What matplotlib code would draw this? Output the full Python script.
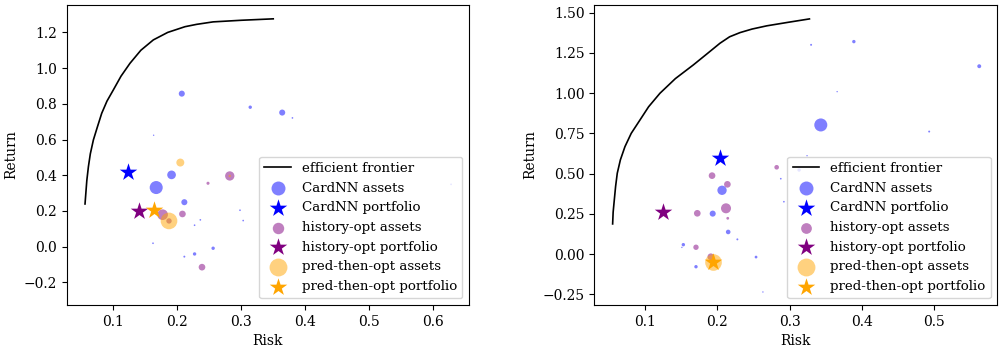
import matplotlib
matplotlib.use("Agg")
import matplotlib.pyplot as plt

plt.rcParams['font.family'] = ['DejaVu Serif']

# ---- left panel ----
frontier1_x = [0.0557, 0.057, 0.0585, 0.061, 0.064, 0.0688, 0.075, 0.0818, 0.090, 0.100, 0.112,
               0.126, 0.143, 0.1625, 0.185, 0.212, 0.23, 0.256, 0.30, 0.350]
frontier1_y = [0.239, 0.30, 0.37, 0.448, 0.52, 0.598, 0.67, 0.747, 0.815, 0.878, 0.955,
               1.027, 1.10, 1.158, 1.20, 1.232, 1.245, 1.259, 1.268, 1.276]

cardnn1_x = [0.207, 0.314, 0.364, 0.380, 0.163, 0.191, 0.167, 0.211, 0.298, 0.303, 0.236, 0.227, 0.162, 0.256, 0.227, 0.211, 0.628]
cardnn1_y = [0.857, 0.781, 0.751, 0.721, 0.624, 0.402, 0.331, 0.249, 0.204, 0.146, 0.150, 0.120, 0.019, -0.009, -0.041, -0.056, 0.349]
cardnn1_w = [19, 6, 19, 1.5, 1, 39, 88, 19, 1.5, 1.5, 1.5, 1.5, 1.5, 6, 6, 2, 1.5]

hist1_x = [0.282, 0.248, 0.177, 0.208, 0.187, 0.2386]
hist1_y = [0.396, 0.355, 0.179, 0.183, 0.144, -0.115]
hist1_w = [45, 5, 59, 23, 15, 23]

pred1_x = [0.2047, 0.187, 0.282]
pred1_y = [0.471, 0.144, 0.396]
pred1_w = [33, 144, 3]

port1 = {'CardNN': (0.1225, 0.417), 'history-opt': (0.140, 0.200), 'pred-then-opt': (0.164, 0.206)}

# ---- right panel ----
frontier2_x = [0.0553, 0.0560, 0.0576, 0.0594, 0.0617, 0.066, 0.0723, 0.081, 0.0931, 0.105, 0.1207,
               0.142, 0.1668, 0.186, 0.2037, 0.217, 0.2314, 0.248, 0.2683, 0.298, 0.3273]
frontier2_y = [0.187, 0.26, 0.336, 0.42, 0.502, 0.585, 0.667, 0.75, 0.833, 0.915, 0.999,
               1.09, 1.175, 1.245, 1.310, 1.35, 1.376, 1.398, 1.418, 1.44, 1.461]

cardnn2_x = [0.3296, 0.3887, 0.562, 0.3656, 0.343, 0.4928, 0.313, 0.2877, 0.2065, 0.1936, 0.215, 0.2277, 0.292, 0.153, 0.151, 0.1705, 0.2535, 0.263, 0.324]
cardnn2_y = [1.300, 1.320, 1.167, 1.009, 0.802, 0.761, 0.522, 0.468, 0.396, 0.251, 0.137, 0.091, 0.325, 0.058, 0.041, -0.079, -0.019, -0.236, 0.611]
cardnn2_w = [2, 6, 8, 1, 88, 2, 6, 1.5, 45, 19, 11, 2, 1.5, 6, 1, 6, 4, 1, 1]

hist2_x = [0.1927, 0.2139, 0.212, 0.1723, 0.2144, 0.1705, 0.191, 0.282]
hist2_y = [0.487, 0.433, 0.284, 0.253, 0.222, 0.042, -0.017, 0.539]
hist2_w = [23, 23, 52, 23, 4, 15, 23, 11]

pred2_x = [0.1936]
pred2_y = [-0.050]
pred2_w = [144]

port2 = {'CardNN': (0.2042, 0.597), 'history-opt': (0.1253, 0.263), 'pred-then-opt': (0.1936, -0.050)}


def draw(ax, fx, fy, assets, port, xlim, ylim):
    ax.plot(fx, fy, color='black', lw=1.2, label='efficient frontier')
    for name, col in [('CardNN', 'blue'), ('history-opt', 'purple'), ('pred-then-opt', 'orange')]:
        x, y, w = assets[name]
        ax.scatter(x, y, s=w, color=col, alpha=0.5, linewidths=0, label=name + ' assets')
        ax.scatter([port[name][0]], [port[name][1]], s=175, marker='*', color=col,
                   linewidths=0, label=name + ' portfolio')
    ax.set_xlim(*xlim)
    ax.set_ylim(*ylim)
    ax.set_xlabel('Risk')
    ax.set_ylabel('Return')
    leg = ax.legend(loc='lower right', fontsize=9.6)
    # legend circles drawn a bit above the largest asset size
    for h, name in zip(leg.legend_handles[1::2], ['CardNN', 'history-opt', 'pred-then-opt']):
        h.set_sizes([1.15 * max(assets[name][2])])
    for h in leg.legend_handles[2::2]:
        h.set_sizes([175])


fig = plt.figure(figsize=(10.07, 3.51), dpi=100)
ax1 = fig.add_axes([0.0662, 0.131, 0.3995, 0.855])
ax2 = fig.add_axes([0.5902, 0.131, 0.4002, 0.855])

draw(ax1, frontier1_x, frontier1_y,
     {'CardNN': (cardnn1_x, cardnn1_y, cardnn1_w),
      'history-opt': (hist1_x, hist1_y, hist1_w),
      'pred-then-opt': (pred1_x, pred1_y, pred1_w)},
     port1, (0.027, 0.656), (-0.327, 1.354))

draw(ax2, frontier2_x, frontier2_y,
     {'CardNN': (cardnn2_x, cardnn2_y, cardnn2_w),
      'history-opt': (hist2_x, hist2_y, hist2_w),
      'pred-then-opt': (pred2_x, pred2_y, pred2_w)},
     port2, (0.030, 0.587), (-0.317, 1.548))

fig.savefig('out.png', dpi=100)
